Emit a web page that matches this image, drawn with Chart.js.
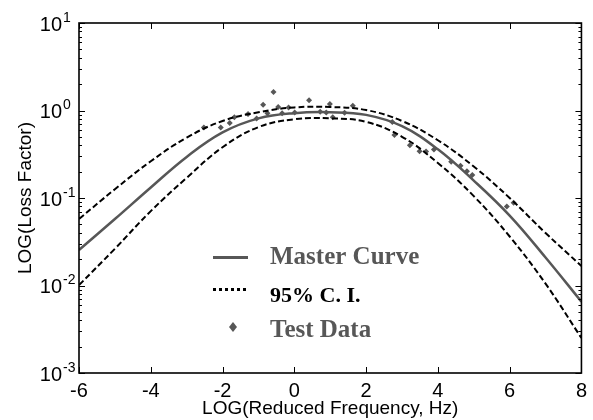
<!DOCTYPE html>
<html>
<head>
<meta charset="utf-8">
<script src="https://cdn.jsdelivr.net/npm/chart.js@4.4.1/dist/chart.umd.min.js"></script>
<style>
  html, body { margin: 0; padding: 0; background: #fff; }
  #wrap { width: 593px; height: 420px; }
</style>
</head>
<body>
<div id="wrap"><canvas id="lossChart"></canvas></div>
<script>
// log10 of reduced frequency (Hz)
const freq = [-6, -5, -4, -3, -2, -1, 0, 1, 2, 3, 4, 5, 6, 7, 8];
// fitted master curve and its 95% confidence band (loss factor)
const masterCurve = [0.0255, 0.0575, 0.132, 0.295, 0.562, 0.813, 0.933, 0.955, 0.891, 0.661, 0.360, 0.158, 0.0630, 0.0209, 0.00653];
const upperCI = [0.0575, 0.126, 0.263, 0.490, 0.759, 0.955, 1.084, 1.096, 1.012, 0.759, 0.457, 0.229, 0.100, 0.0398, 0.0167];
const lowerCI = [0.0101, 0.0263, 0.0708, 0.170, 0.380, 0.646, 0.794, 0.813, 0.741, 0.501, 0.251, 0.105, 0.0363, 0.0105, 0.00251];
// measured points
const testFreq = [-2.52, -2.05, -1.80, -1.67, -1.29, -1.05, -0.87, -0.75, -0.58, -0.45, -0.34, -0.16, 0.01, 0.41, 0.72, 0.89,
                  0.99, 1.07, 1.40, 1.63, 2.73, 2.79, 3.22, 3.49, 3.67, 3.89, 4.37, 4.63, 4.81, 4.96, 5.92, 6.11];
const testLoss = [0.64, 0.64, 0.72, 0.84, 0.91, 0.81, 1.16, 0.93, 1.63, 1.10, 0.93, 1.08, 0.95, 1.31, 0.97, 0.95,
                  1.19, 0.84, 0.94, 1.13, 0.74, 0.525, 0.40, 0.343, 0.34, 0.358, 0.26, 0.233, 0.202, 0.183, 0.080, 0.088];
const xTicks = [-6, -4, -2, 0, 2, 4, 6, 8];
const yDecades = [0.001, 0.01, 0.1, 1, 10];

const GRAY = '#575757';
const sans = '"Liberation Sans", Arial, sans-serif';
const serif = '"Liberation Serif", "Times New Roman", serif';

const pts = (xs, ys) => xs.map((x, i) => ({ x: x, y: ys[i] }));

// box, inward tick marks and 10^n labels
const frame = {
  id: 'frame',
  afterDraw(chart) {
    const { ctx, chartArea: a, scales: { x, y } } = chart;
    ctx.save();
    ctx.strokeStyle = '#000';
    ctx.lineWidth = 1;
    ctx.beginPath();
    xTicks.forEach(v => {
      const px = Math.round(x.getPixelForValue(v)) + 0.5;
      ctx.moveTo(px, a.bottom); ctx.lineTo(px, a.bottom - 6);
      ctx.moveTo(px, a.top); ctx.lineTo(px, a.top + 6);
    });
    yDecades.forEach((d, i) => {
      for (let m = 1; m <= 9; m++) {
        if (i === yDecades.length - 1 && m > 1) break;
        const py = Math.round(y.getPixelForValue(d * m)) + 0.5;
        const len = m === 1 ? 6 : 3;
        ctx.moveTo(a.left, py); ctx.lineTo(a.left + len, py);
        ctx.moveTo(a.right, py); ctx.lineTo(a.right - len, py);
      }
    });
    ctx.stroke();
    ctx.lineWidth = 1.6;
    ctx.strokeRect(a.left, a.top, a.right - a.left, a.bottom - a.top);

    ctx.fillStyle = '#000';
    ctx.textBaseline = 'middle';
    yDecades.forEach(d => {
      const py = y.getPixelForValue(d);
      const exp = String(Math.round(Math.log10(d)));
      ctx.font = '20px ' + sans;
      ctx.textAlign = 'right';
      ctx.fillText('10', a.left - 17, py + 2);
      ctx.font = '14px ' + sans;
      ctx.textAlign = 'left';
      ctx.fillText(exp, a.left - 16, py - 5);
    });
    ctx.restore();
  }
};

// legend drawn inside the plot area
const keyBox = {
  id: 'keyBox',
  afterDatasetsDraw(chart) {
    const { ctx, chartArea: a } = chart;
    const ds = chart.data.datasets;
    const x0 = a.left + 134, x1 = a.left + 169, tx = a.left + 191;
    ctx.save();
    ctx.textBaseline = 'alphabetic';
    ctx.textAlign = 'left';

    ctx.strokeStyle = ds[0].borderColor;
    ctx.lineWidth = 3;
    ctx.beginPath(); ctx.moveTo(x0, 257.5); ctx.lineTo(x1, 257.5); ctx.stroke();
    ctx.font = 'bold 25px ' + serif;
    ctx.fillStyle = GRAY;
    ctx.fillText(ds[0].label, tx, 264);

    ctx.strokeStyle = '#000';
    ctx.setLineDash([3, 3]);
    ctx.beginPath(); ctx.moveTo(x0, 289.5); ctx.lineTo(x1 - 2, 289.5); ctx.stroke();
    ctx.setLineDash([]);
    ctx.font = 'bold 22px ' + serif;
    ctx.fillStyle = '#000';
    ctx.fillText(ds[1].label, tx, 301.5);

    const cx = a.left + 154, cy = 327;
    ctx.fillStyle = GRAY;
    ctx.beginPath();
    ctx.moveTo(cx, cy - 5); ctx.lineTo(cx + 4, cy); ctx.lineTo(cx, cy + 5); ctx.lineTo(cx - 4, cy);
    ctx.closePath(); ctx.fill();
    ctx.font = 'bold 25px ' + serif;
    ctx.fillText(ds[3].label, tx, 336.5);
    ctx.restore();
  }
};

new Chart(document.getElementById('lossChart'), {
  type: 'line',
  data: {
    datasets: [
      { label: 'Master Curve', data: pts(freq, masterCurve), borderColor: GRAY, borderWidth: 2.5,
        pointRadius: 0, tension: 0.4, fill: false },
      { label: '95% C. I.', data: pts(freq, upperCI), borderColor: '#000', borderWidth: 2,
        borderDash: [6, 3], pointRadius: 0, tension: 0.4, fill: false },
      { label: '95% C. I. (lower)', data: pts(freq, lowerCI), borderColor: '#000', borderWidth: 2,
        borderDash: [6, 3], pointRadius: 0, tension: 0.4, fill: false },
      { label: 'Test Data', data: pts(testFreq, testLoss), showLine: false, pointStyle: 'rectRot',
        pointRadius: 3, backgroundColor: GRAY, borderColor: GRAY, borderWidth: 0 }
    ]
  },
  options: {
    responsive: true,
    maintainAspectRatio: false,
    animation: false,
    layout: { padding: { top: 23, right: 11, left: 0, bottom: 0 } },
    plugins: { legend: { display: false }, tooltip: { enabled: false } },
    scales: {
      x: {
        type: 'linear', min: -6, max: 8,
        afterBuildTicks: s => { s.ticks = xTicks.map(v => ({ value: v })); },
        afterFit: s => { s.height = 47; },
        grid: { display: false, drawTicks: false },
        border: { display: false },
        ticks: { color: '#000', padding: 6, font: { family: sans, size: 20 } },
        title: { display: true, text: 'LOG(Reduced Frequency, Hz)', color: '#000',
                 font: { family: sans, size: 19 }, padding: { top: 0, bottom: 0 } }
      },
      y: {
        type: 'logarithmic', min: 0.001, max: 10,
        afterFit: s => { s.width = 79; },
        grid: { display: false, drawTicks: false },
        border: { display: false },
        ticks: { display: false },
        title: { display: true, text: 'LOG(Loss Factor)', color: '#000',
                 font: { family: sans, size: 19 }, padding: { top: 14, bottom: 0 } }
      }
    }
  },
  plugins: [frame, keyBox]
});
</script>
</body>
</html>
